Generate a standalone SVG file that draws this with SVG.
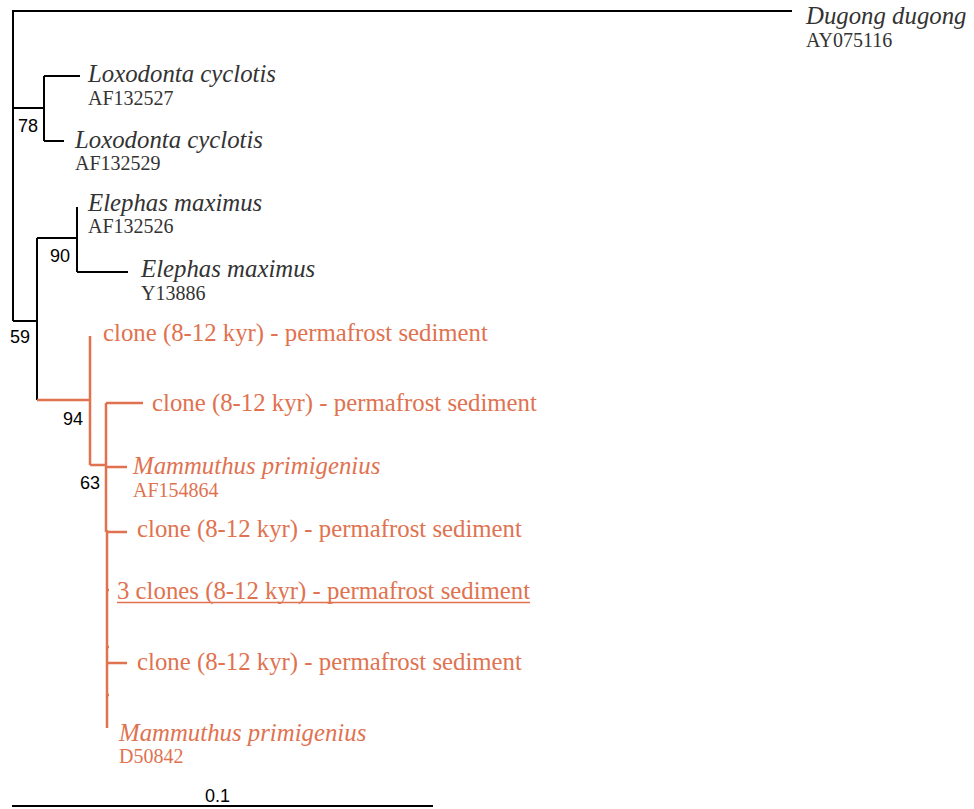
<svg xmlns="http://www.w3.org/2000/svg" width="974" height="809" viewBox="0 0 974 809">
<style>
.bk{stroke:#000;stroke-width:2;fill:none}
.or{stroke:#E07250;stroke-width:2.5;fill:none}
.sp{font-family:"Liberation Serif",serif;font-style:italic;font-size:24.8px}
.ac{font-family:"Liberation Serif",serif;font-size:20px}
.cl{font-family:"Liberation Serif",serif;font-size:24.8px;fill:#E07250}
.dk{fill:#333}
.orf{fill:#E07250}
.bs{font-family:"Liberation Sans",sans-serif;font-size:18px;fill:#000}
</style>
<rect width="974" height="809" fill="#fff"/>
<g id="connectors">
<path class="bk" d="M13,11 H792 M13,10 V321 M13,108 H44 M44,76 V141 M44,76 H80 M44,141 H64 M13,321 H37 M37,238 V400 M37,238 H77 M77,207 V272 M77,272 H128"/>
<path class="or" d="M37,400 H90 M90,336 V465 M90,465 H106 M106,403 V532 M106,403 H143 M106,467 H127 M107,532 H127 M107,530 V728 M107,590 H109 M107,647 H109 M107,663 H127 M107,695 H109"/>
<path class="bk" d="M12,806 H433"/>
</g>
<g id="n-dugong"><text class="sp dk" x="806" y="24">Dugong dugong</text><text class="ac dk" x="806" y="47">AY075116</text></g>
<g id="n-lox1"><text class="sp dk" x="88" y="82">Loxodonta cyclotis</text><text class="ac dk" x="88" y="105">AF132527</text></g>
<g id="n-lox2"><text class="sp dk" x="75" y="148">Loxodonta cyclotis</text><text class="ac dk" x="75" y="170">AF132529</text></g>
<g id="n-ele1"><text class="sp dk" x="88" y="211">Elephas maximus</text><text class="ac dk" x="88" y="233">AF132526</text></g>
<g id="n-ele2"><text class="sp dk" x="141" y="277">Elephas maximus</text><text class="ac dk" x="141" y="300">Y13886</text></g>
<g id="n-clone1"><text class="cl" x="103" y="341">clone (8-12 kyr) - permafrost sediment</text></g>
<g id="n-clone2"><text class="cl" x="152" y="411">clone (8-12 kyr) - permafrost sediment</text></g>
<g id="n-mam1"><text class="sp orf" x="133" y="474">Mammuthus primigenius</text><text class="ac orf" x="133" y="497">AF154864</text></g>
<g id="n-clone3"><text class="cl" x="137" y="537">clone (8-12 kyr) - permafrost sediment</text></g>
<g id="n-clones3"><text class="cl" x="117" y="599">3 clones (8-12 kyr) - permafrost sediment</text><line x1="117" y1="602.5" x2="530" y2="602.5" stroke="#E07250" stroke-width="1.3"/></g>
<g id="n-clone4"><text class="cl" x="137" y="670">clone (8-12 kyr) - permafrost sediment</text></g>
<g id="n-mam2"><text class="sp orf" x="119" y="741">Mammuthus primigenius</text><text class="ac orf" x="119" y="763">D50842</text></g>
<g id="support">
<text class="bs" x="18" y="132">78</text>
<text class="bs" x="50" y="262">90</text>
<text class="bs" x="10" y="343">59</text>
<text class="bs" x="63" y="425">94</text>
<text class="bs" x="80" y="489">63</text>
<text class="bs" x="205" y="802">0.1</text>
</g>
</svg>
